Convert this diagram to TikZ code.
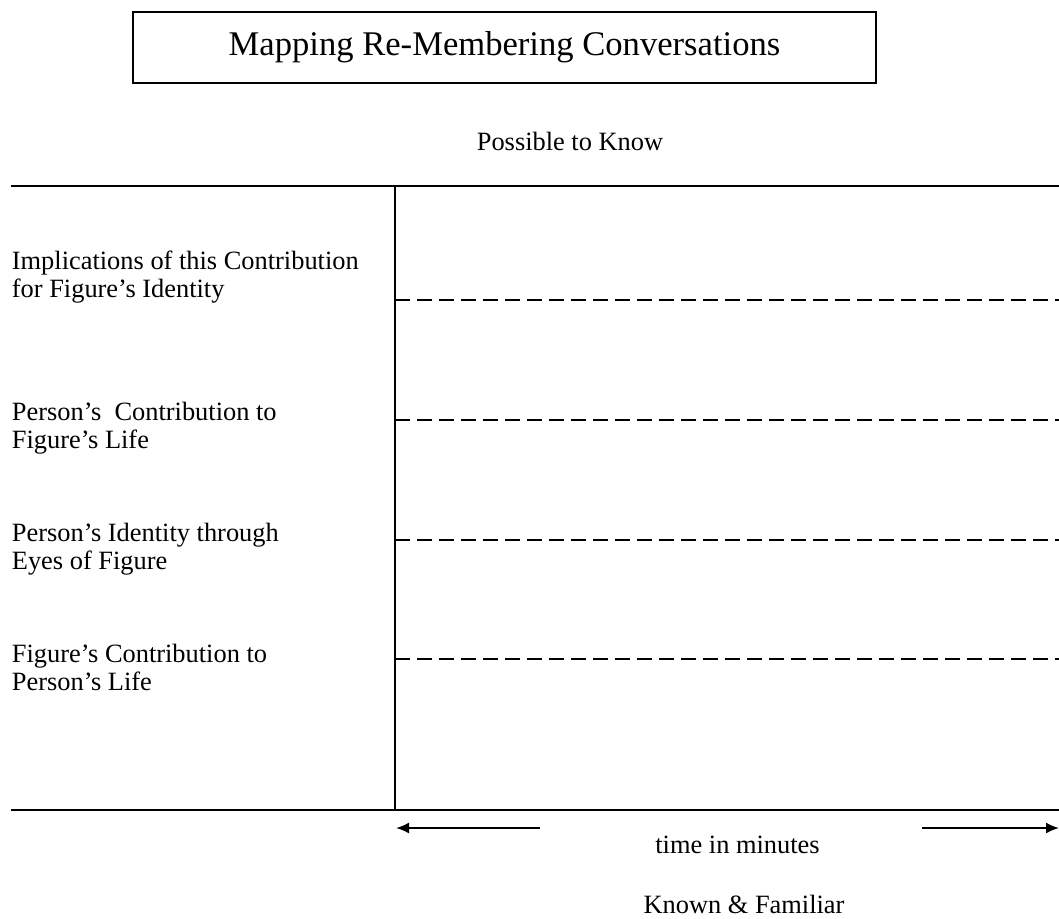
\documentclass[tikz,border=0pt]{standalone}
\usepackage{fontspec}
\setmainfont{Liberation Serif}
\usetikzlibrary{arrows.meta,positioning}

\begin{document}
\begin{tikzpicture}[x = 0.5pt, y = -0.5pt, >= {Latex[length=6.5pt, width=5.5pt]}, line width = 0.9pt,
	rowtext/.style = {anchor = base west, inner sep = 0pt, align = left, font = \fontsize{13.2}{14}\selectfont},
	plain/.style = {anchor = base, inner sep = 0pt, font = \fontsize{13.2}{14}\selectfont},
	level/.style = {dash pattern = on 7.5pt off 3.5pt}]
	\useasboundingbox (0,0) rectangle (1059,918);
	\node[draw, minimum width = 371.5pt, minimum height = 35.5pt, font = \fontsize{17.3}{20}\selectfont] (title) at (504.5,47.5) {Mapping Re-Membering Conversations};
	\node[plain] (possible) at (570,150) {Possible to Know};
	\coordinate (topl) at (11,186);  \coordinate (topr) at (1059,186);
	\coordinate (botl) at (11,810);  \coordinate (botr) at (1059,810);
	\coordinate (axtop) at (395,186); \coordinate (axbot) at (395,810);
	\draw (topl) -- (topr);
	\draw (botl) -- (botr);
	\draw (axtop) -- (axbot);
	\node[rowtext] (implic) at (11,297) {Implications of this Contribution\\for Figure's Identity};
	\node[rowtext] (perscon) at (11,448) {Person's \ Contribution to\\Figure's Life};
	\node[rowtext] (persid) at (11,569) {Person's Identity through\\Eyes of Figure};
	\node[rowtext] (figcon) at (11,690) {Figure's Contribution to\\Person's Life};
	\coordinate (l1a) at (395,300); \coordinate (l1b) at (1059,300);
	\coordinate (l2a) at (395,420); \coordinate (l2b) at (1059,420);
	\coordinate (l3a) at (395,540); \coordinate (l3b) at (1059,540);
	\coordinate (l4a) at (395,659); \coordinate (l4b) at (1059,659);
	\draw[level] (l1a) -- (l1b);
	\draw[level] (l2a) -- (l2b);
	\draw[level] (l3a) -- (l3b);
	\draw[level] (l4a) -- (l4b);
	\coordinate (lstart) at (540,828); \coordinate (lend) at (396,828);
	\coordinate (rstart) at (922,828); \coordinate (rend) at (1059,828);
	\draw[->] (lstart) -- (lend);
	\draw[->] (rstart) -- (rend);
	\node[plain] (time) at (737.5,853) {time in minutes};
	\node[plain] (known) at (744,913) {Known \& Familiar};
\end{tikzpicture}
\end{document}
